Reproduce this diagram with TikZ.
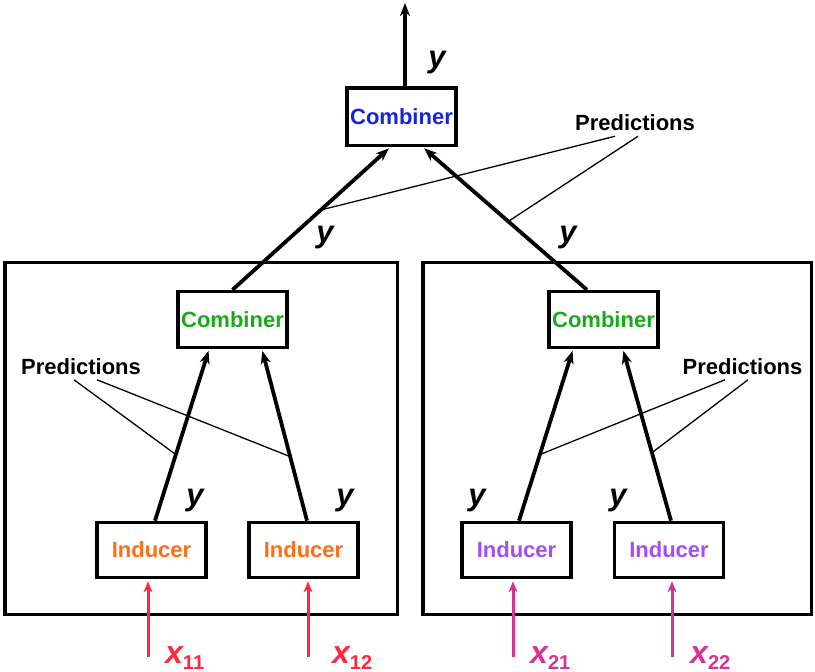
\documentclass[tikz,border=0pt]{standalone}
\usepackage{fontspec}
\setmainfont{Liberation Sans}
\usetikzlibrary{arrows.meta,calc}
\definecolor{cblue}{RGB}{25,35,215}
\definecolor{cgreen}{RGB}{25,170,25}
\definecolor{corange}{RGB}{255,110,20}
\definecolor{cpurple}{RGB}{165,75,250}
\definecolor{cred}{RGB}{255,40,60}
\definecolor{cmag}{RGB}{215,50,145}
\newcommand\subidx[1]{{\fontsize{20}{20}\selectfont\upshape\raisebox{-6pt}{#1}}}
\begin{document}
\begin{tikzpicture}[x=1pt,y=-1pt,
  box/.style={draw, line width=3.6pt, minimum width=109pt, minimum height=56pt, inner sep=0pt,
    font=\fontsize{22}{24}\selectfont\bfseries},
  frame/.style={draw, line width=3.4pt, inner sep=0pt},
  conn/.style={line width=3.8pt, shorten >=1.5pt, -{Stealth[length=13pt,width=10pt,inset=4pt]}},
  ptr/.style={line width=1.3pt},
  lbl/.style={font=\fontsize{22}{24}\selectfont\bfseries, inner sep=5pt},
  ylbl/.style={font=\fontsize{31}{31}\selectfont\bfseries\itshape, inner sep=0pt},
  xlbl/.style={font=\fontsize{32}{32}\selectfont\bfseries\itshape, inner sep=0pt, anchor=base west},
  inarrow/.style={line width=3pt, shorten >=2pt, -{Stealth[length=11pt,width=9pt,inset=3.5pt]}}
]
\useasboundingbox (0,0) rectangle (815,672);

% group frames
\node[frame, minimum width=392.7pt, minimum height=352pt] (g1) at (201.3,438.7) {};
\node[frame, minimum width=388.5pt, minimum height=352pt] (g2) at (617.2,438.7) {};

% boxes
\node[box, minimum height=57.5pt, text=cblue] (top) at (401.5,116.8) {Combiner};
\node[box, text=cgreen] (cl) at (232.5,319.6) {Combiner};
\node[box, text=cgreen] (cr) at (603.5,319.6) {Combiner};
\node[box, minimum height=55pt, text=corange] (i11) at (151.5,550) {Inducer};
\node[box, minimum height=55pt, text=corange] (i12) at (303.5,550) {Inducer};
\node[box, minimum height=55pt, text=cpurple] (i21) at (516.5,550) {Inducer};
\node[box, minimum height=55pt, text=cpurple] (i22) at (669,550) {Inducer};

% labels
\node[lbl] (pt) at (635,123) {Predictions};
\node[lbl] (pl) at (81,366.5) {Predictions};
\node[lbl] (pr) at (742.5,366.5) {Predictions};

\node[ylbl] (y0) at (437,63) {y};
\node[ylbl] (y1) at (325,238) {y};
\node[ylbl] (y2) at (568,238) {y};
\node[ylbl] (y11) at (195,501) {y};
\node[ylbl] (y12) at (345,501) {y};
\node[ylbl] (y21) at (477,501) {y};
\node[ylbl] (y22) at (618,501) {y};

\node[xlbl, text=cred] (x11) at (165,663) {x\subidx{11}};
\node[xlbl, text=cred] (x12) at (332,663) {x\subidx{12}};
\node[xlbl, text=cmag] (x21) at (530,663) {x\subidx{21}};
\node[xlbl, text=cmag] (x22) at (690,663) {x\subidx{22}};

% output arrow
\coordinate (out) at (405,3);
\draw[conn, shorten >=0pt] ([xshift=3.5pt]top.north) -- (out);

% upper connectors
\draw[conn] (cl.north) -- ([xshift=-11.5pt]top.south) coordinate[pos=0.56] (pc1);
\draw[conn] ([xshift=-16.5pt]cr.north) -- ([xshift=21.5pt]top.south) coordinate[pos=0.48] (pc2);

% inner connectors
\draw[conn] ([xshift=3.5pt]i11.north) -- ([xshift=-23.5pt]cl.south) coordinate[pos=0.386] (p11);
\draw[conn] ([xshift=3.5pt]i12.north) -- ([xshift=29.5pt]cl.south) coordinate[pos=0.374] (p12);
\draw[conn] ([xshift=2.5pt]i21.north) -- ([xshift=-30.5pt]cr.south) coordinate[pos=0.386] (p21);
\draw[conn] ([xshift=2pt]i22.north) -- ([xshift=19.5pt]cr.south) coordinate[pos=0.397] (p22);

% prediction pointers
\draw[ptr] ([xshift=-20pt]pt.south) -- (pc1);
\draw[ptr] ([xshift=3pt]pt.south) -- (pc2);
\draw[ptr] ([xshift=-7pt]pl.south) -- (p11);
\draw[ptr] ([xshift=16pt]pl.south) -- (p12);
\draw[ptr] ([xshift=-17.5pt]pr.south) -- (p21);
\draw[ptr] ([xshift=5.5pt]pr.south) -- (p22);

% inputs
\coordinate (in11) at (148,657);
\coordinate (in12) at (308,657);
\coordinate (in21) at (513,657);
\coordinate (in22) at (672,657);
\draw[inarrow, cred] (in11) -- (in11 |- i11.south);
\draw[inarrow, cred] (in12) -- (in12 |- i12.south);
\draw[inarrow, cmag] (in21) -- (in21 |- i21.south);
\draw[inarrow, cmag] (in22) -- (in22 |- i22.south);
\end{tikzpicture}
\end{document}
